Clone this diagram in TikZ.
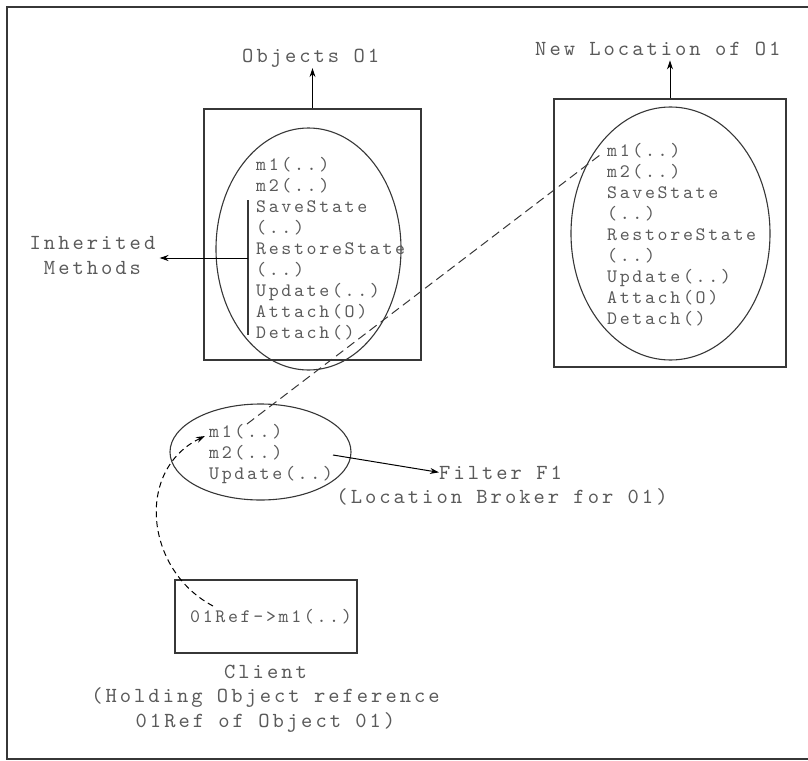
\documentclass[tikz,border=0pt]{standalone}
\usepackage{fontspec}
\usepackage{xcolor}
\usepackage{tikz}
\usetikzlibrary{positioning}
\usetikzlibrary{shapes.geometric,arrows.meta}
\newfontfamily\monolight{lmmono10-regular.otf}[LetterSpace=14]
\definecolor{txtgray}{RGB}{90,90,90}
\definecolor{linegray}{RGB}{55,55,55}
\tikzset{
	frame/.style={draw=linegray, line width=1.5pt},
	box/.style={draw=linegray, line width=1.1pt, rectangle, inner sep=0pt},
	oval/.style={draw=linegray, line width=1.1pt, ellipse, inner sep=0pt},
	meth/.style={font={\monolight\fontsize{19}{21}\selectfont}, text=txtgray, align=left, inner sep=0pt, anchor=base west},
	lbl/.style={font={\monolight\fontsize{21.5}{24.5}\selectfont}, text=txtgray, align=center, inner sep=0pt},
	arr/.style={draw=black, line width=1pt, -{Stealth[length=9pt,width=6pt]}},
	longdash/.style={draw=linegray, line width=1pt, dash pattern=on 9pt off 5pt},
	calldash/.style={draw=black, line width=1pt, dash pattern=on 6pt off 4pt, -{Stealth[length=9pt,width=6pt]}}
}

\begin{document}
\begin{tikzpicture}[x=1pt, y=-1pt]
	\useasboundingbox (0,0) rectangle (808,760);
	\draw[frame] (808,7) -- (7,7) -- (7,759) -- (808,759);

	\node[box, minimum width=217pt, minimum height=251pt] (lbox) at (312.5,234.5) {};
	\node[oval, minimum width=185pt, minimum height=242pt] (loval) at (308.5,249) {};
	\node[meth] (lmeth) at (256,338) {m1(..)\\m2(..)\\SaveState\\(..)\\RestoreState\\(..)\\Update(..)\\Attach(O)\\Detach()};

	\node[box, minimum width=232pt, minimum height=268pt] (rbox) at (670,233) {};
	\node[oval, minimum width=199pt, minimum height=253pt] (roval) at (670.5,233.5) {};
	\node[meth] (rmeth) at (607,324) {m1(..)\\m2(..)\\SaveState\\(..)\\RestoreState\\(..)\\Update(..)\\Attach(O)\\Detach()};

	\node[oval, minimum width=181pt, minimum height=96pt] (foval) at (260.5,452) {};
	\node[meth] (fmeth) at (209,479) {m1(..)\\m2(..)\\Update(..)};

	\node[box, minimum width=182pt, minimum height=73pt] (cbox) at (266,616.5) {};
	\node[meth] (cmeth) at (190,622) {01Ref->m1(..)};

	\node[lbl, anchor=base west] (objlbl) at (242,63) {Objects O1};
	\node[lbl, anchor=base west] (newlbl) at (535,56) {New Location of O1};
	\node[lbl, anchor=base] (inhlbl) at (92.5,274) {Inherited\\Methods};
	\node[lbl, anchor=base west] (fltlbl) at (439,479) {Filter F1};
	\node[lbl, anchor=base] (locbrk) at (502,503) {(Location Broker for 01)};
	\node[lbl, anchor=base] (clilbl) at (265.5,727) {Client\\(Holding Object reference\\01Ref of Object 01)};

	\coordinate (ibtop) at (248,200);
	\coordinate (ibbot) at (248,335);
	\coordinate (ibmid) at (248,258);
	\coordinate (fsrc) at (333,455);
	\coordinate (fm1) at (247,424);
	\coordinate (rm1) at (600,155);
	\coordinate (ccall) at (213,606);
	\coordinate (fm1in) at (205,436);

	\draw[arr] (lbox.north) -- (lbox.north |- objlbl.south);
	\draw[arr, shorten >=4pt] (rbox.north) -- (rbox.north |- newlbl.south);
	\draw[draw=linegray, line width=1.1pt] (ibtop) -- (ibbot);
	\draw[arr, shorten >=4pt] (ibmid) -- (ibmid -| inhlbl.east);
	\draw[arr] (fsrc) -- (fltlbl.west);
	\draw[longdash] (fm1) -- (rm1);
	\draw[calldash] (ccall) .. controls (145,570) and (135,470) .. (fm1in);
\end{tikzpicture}
\end{document}
